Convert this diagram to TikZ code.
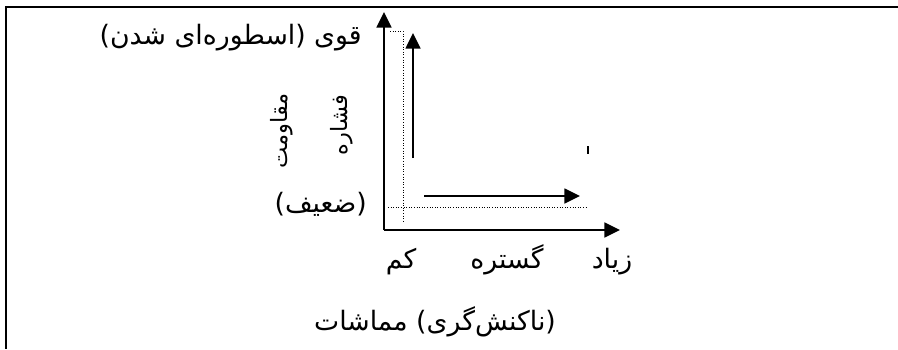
\documentclass[tikz,border=0pt]{standalone}
\usepackage{fontspec}
\usepackage{tikz}
\usetikzlibrary{arrows.meta,positioning}
\newfontfamily\farsi[Script=Arabic]{DejaVu Sans}
\TeXXeTstate=1

\begin{document}
\begin{tikzpicture}[x=0.25mm, y=-0.25mm, >={Triangle[length=3.9mm,width=3.7mm]},
    lbl/.style={font=\farsi\fontsize{19}{22}\selectfont, inner sep=0pt},
    vlbl/.style={font=\farsi\fontsize{16}{19}\selectfont, inner sep=0pt, rotate=90},
    axis/.style={line width=0.6mm},
    guide/.style={line width=0.25mm, dash pattern=on 0.25mm off 0.4mm}]
    \useasboundingbox (0,0) rectangle (898,349);
    % frame
    \draw[line width=0.5mm] (898,7) -- (6,7) -- (6,349);

    % axes
    \coordinate (o) at (384,230);
    \coordinate (ytop) at (384,12);
    \coordinate (xend) at (620,230);
    \draw[axis,->] (o) -- (ytop);
    \draw[axis,->] (o) -- (xend);

    % dotted guides
    \coordinate (g1) at (390,31);
    \coordinate (g2) at (403,31);
    \coordinate (g3) at (403,222);
    \coordinate (h1) at (388,207);
    \coordinate (h2) at (587,207);
    \draw[guide] (g1) -- (g2) -- (g3);
    \draw[guide] (h1) -- (h2);

    % inner arrows
    \coordinate (up0) at (413,158);
    \coordinate (up1) at (413,33);
    \coordinate (rt0) at (424,196);
    \coordinate (rt1) at (580,196);
    \draw[->, line width=0.5mm] (up0) -- (up1);
    \draw[->, line width=0.5mm] (rt0) -- (rt1);

    % stray mark
    \coordinate (m0) at (588,146);
    \coordinate (m1) at (588,154);
    \draw[line width=0.5mm] (m0) -- (m1);

    % labels
    \node[lbl, anchor=east] (strong) at (362,38) {\beginR قوی (اسطوره‌ای شدن)\endR};
    \node[vlbl] (resist) at (282,131) {\beginR مقاومت\endR};
    \node[vlbl] (press) at (342,125) {\beginR فشاره\endR};
    \node[lbl, anchor=east] (weak) at (367,204) {\beginR (ضعیف)\endR};
    \node[lbl] (low) at (401,262) {\beginR کم\endR};
    \node[lbl] (range) at (507,260) {\beginR گستره\endR};
    \node[lbl] (high) at (612,262) {\beginR زیاد\endR};
    \node[lbl] (appease) at (435,322) {\beginR (ناکنش‌گری) مماشات\endR};
\end{tikzpicture}
\end{document}
